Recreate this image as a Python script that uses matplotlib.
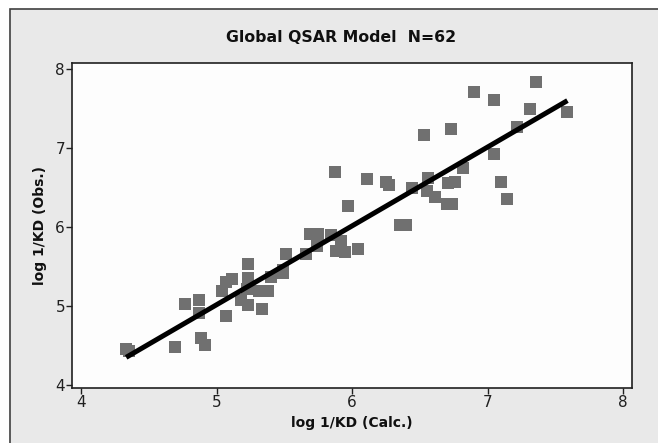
import matplotlib
matplotlib.use("Agg")
import matplotlib.pyplot as plt
from matplotlib.patches import Rectangle

calc = [4.33, 4.35, 4.69, 4.765, 4.87, 4.87, 4.88, 4.91, 5.07, 5.04,
        5.07, 5.11, 5.23, 5.23, 5.22, 5.18, 5.23, 5.33, 5.31, 5.38,
        5.40, 5.49, 5.49, 5.51, 5.66, 5.74, 5.69, 5.75, 5.84, 5.92,
        5.88, 5.95, 6.04, 5.97, 5.87, 6.11, 6.25, 6.27, 6.44, 6.56,
        6.55, 6.61, 6.71, 6.76, 6.70, 6.74, 6.53, 6.73, 6.82, 6.90,
        7.05, 7.05, 7.10, 7.14, 6.35, 6.40, 7.36, 7.31, 7.22, 7.59]
obs = [4.45, 4.43, 4.48, 5.02, 5.08, 4.91, 4.60, 4.50, 4.87, 5.19,
       5.31, 5.34, 5.53, 5.35, 5.22, 5.08, 5.01, 4.96, 5.19, 5.19,
       5.37, 5.46, 5.42, 5.66, 5.66, 5.76, 5.91, 5.91, 5.90, 5.82,
       5.70, 5.68, 5.72, 6.26, 6.69, 6.61, 6.57, 6.53, 6.49, 6.62,
       6.45, 6.38, 6.56, 6.57, 6.29, 6.29, 7.17, 7.24, 6.75, 7.71,
       7.61, 6.92, 6.57, 6.36, 6.03, 6.03, 7.83, 7.49, 7.26, 7.45]

fit_x = [4.33, 7.59]
fit_y = [4.35, 7.60]

x_ticks = [4, 5, 6, 7, 8]
y_ticks = [4, 5, 6, 7, 8]

title = "Global QSAR Model  N=62"
xlabel = "log 1/KD (Calc.)"
ylabel = "log 1/KD (Obs.)"

W, H = 658, 443
fig = plt.figure(figsize=(W / 100, H / 100), dpi=100)
fig.patch.set_facecolor("white")

bg = Rectangle((10 / W, -0.1), 2.0, (1 - 9 / H) + 0.1, transform=fig.transFigure,
               facecolor="#e9e9e9", edgecolor="#404040", linewidth=1.2, zorder=-5)
fig.patches.append(bg)

ax = fig.add_axes([72 / W, 1 - 388 / H, (632 - 72) / W, (388 - 63) / H])
ax.set_zorder(1)
ax.set_facecolor("#fdfdfd")

ax.scatter(calc, obs, marker="s", s=64, color="#707070", linewidths=0, zorder=2)
ax.plot(fit_x, fit_y, color="black", linewidth=3.6, solid_capstyle="butt", zorder=3)

ax.set_xlim(3.93, 8.067)
ax.set_ylim(3.962, 8.076)
ax.set_xticks(x_ticks)
ax.set_yticks(y_ticks)
ax.tick_params(direction="out", length=4, width=1, colors="#202020", labelsize=11, pad=1)
for sp in ax.spines.values():
    sp.set_color("#202020")
    sp.set_linewidth(1.2)

fig.text(341 / W, 1 - 38 / H, title, ha="center", va="center",
         fontsize=11.3, fontweight="bold", color="#101010")
ax.set_xlabel(xlabel, fontsize=10, fontweight="bold", labelpad=4, color="#101010")
ax.set_ylabel(ylabel, fontsize=10, fontweight="bold", labelpad=6, color="#101010")

fig.savefig("out.png", dpi=100, facecolor=fig.get_facecolor())
